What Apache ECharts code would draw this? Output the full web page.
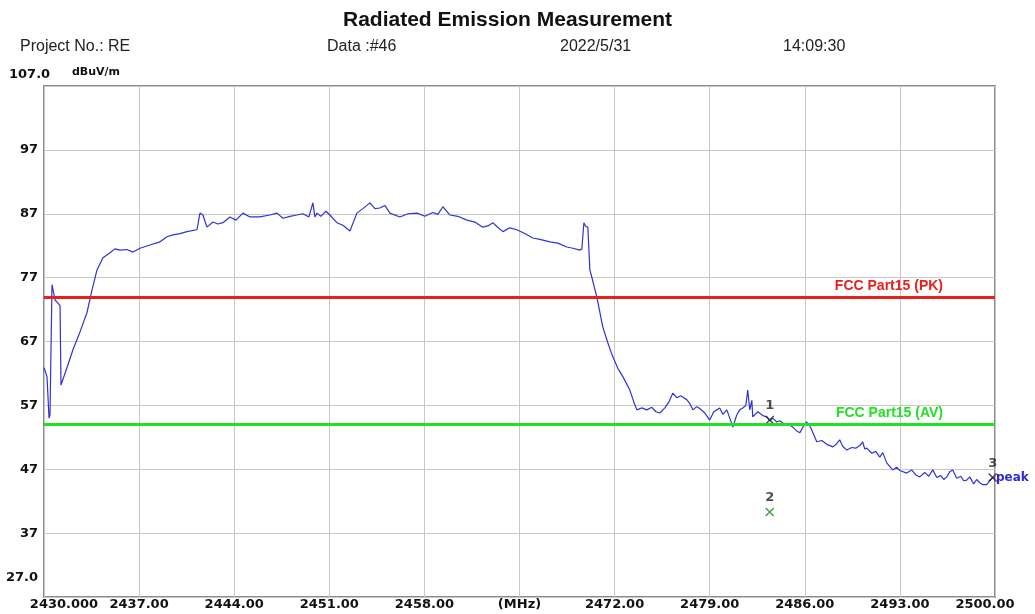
<!DOCTYPE html>
<html>
<head>
<meta charset="utf-8">
<script src="https://cdn.jsdelivr.net/npm/echarts@6/dist/echarts.min.js"></script>
<style>
  html, body { margin: 0; padding: 0; background: #fff; }
  #chart { width: 1035px; height: 614px; }
</style>
</head>
<body>
<div id="chart"></div>
<script>
// 扫描数据 (MHz / dBuV/m)
var freqs = [
  2430.00, 2430.07, 2430.22, 2430.37, 2430.44, 2430.59, 2430.66, 2430.81, 2431.03, 2431.18,
  2431.25, 2431.32, 2431.69, 2432.13, 2432.65, 2433.16, 2433.53, 2433.90, 2434.34, 2434.86,
  2435.22, 2435.59, 2436.11, 2436.55, 2437.06, 2437.80, 2438.54, 2439.05, 2439.49, 2440.01,
  2440.52, 2441.26, 2441.48, 2441.70, 2441.99, 2442.44, 2442.80, 2443.17, 2443.69, 2444.13,
  2444.64, 2445.16, 2445.89, 2446.63, 2447.15, 2447.59, 2448.10, 2448.62, 2449.06, 2449.50,
  2449.79, 2449.94, 2450.09, 2450.38, 2450.75, 2451.04, 2451.56, 2452.00, 2452.52, 2453.03,
  2453.47, 2453.99, 2454.36, 2454.72, 2455.09, 2455.46, 2456.20, 2456.79, 2457.45, 2458.04,
  2458.62, 2458.99, 2459.36, 2459.88, 2460.46, 2461.13, 2461.71, 2462.30, 2462.67, 2463.04,
  2463.33, 2463.78, 2464.29, 2464.80, 2465.39, 2465.98, 2466.50, 2467.23, 2467.82, 2468.48,
  2468.93, 2469.44, 2469.59, 2469.74, 2469.88, 2470.03, 2470.18, 2470.32, 2470.69, 2471.13,
  2471.50, 2471.87, 2472.24, 2472.61, 2473.12, 2473.42, 2473.64, 2474.01, 2474.37, 2474.74,
  2475.04, 2475.33, 2475.70, 2475.99, 2476.28, 2476.58, 2476.87, 2477.31, 2477.53, 2477.76,
  2478.05, 2478.27, 2478.64, 2479.00, 2479.30, 2479.74, 2479.96, 2480.26, 2480.48, 2480.70,
  2480.99, 2481.21, 2481.44, 2481.66, 2481.80, 2481.95, 2482.10, 2482.17, 2482.54, 2482.91,
  2483.20, 2483.42, 2483.64, 2483.94, 2484.16, 2484.53, 2484.89, 2485.11, 2485.41, 2485.63,
  2485.92, 2486.14, 2486.44, 2486.88, 2487.25, 2487.62, 2488.06, 2488.35, 2488.57, 2488.79,
  2489.09, 2489.46, 2489.75, 2490.05, 2490.26, 2490.41, 2490.56, 2490.93, 2491.22, 2491.52,
  2491.74, 2492.03, 2492.47, 2492.77, 2492.99, 2493.50, 2493.87, 2494.17, 2494.46, 2494.83,
  2495.12, 2495.42, 2495.71, 2496.00, 2496.23, 2496.45, 2496.67, 2496.89, 2497.18, 2497.48,
  2497.70, 2497.92, 2498.14, 2498.43, 2498.65, 2498.87, 2499.09, 2499.39, 2499.61, 2499.83,
  2500.00
]
var levels = [
  62.9, 62.5, 61.5, 55.0, 55.5, 75.9, 76.0, 73.5, 73.0, 72.6,
  60.2, 60.3, 62.9, 65.7, 68.5, 71.5, 75.0, 78.2, 80.1, 80.9,
  81.5, 81.3, 81.4, 81.0, 81.6, 82.1, 82.6, 83.4, 83.7, 83.9,
  84.2, 84.5, 87.1, 86.8, 84.9, 85.7, 85.4, 85.6, 86.5, 86.0,
  87.1, 86.5, 86.5, 86.8, 87.1, 86.3, 86.6, 86.8, 87.0, 86.5,
  88.7, 86.5, 87.1, 86.6, 87.4, 86.8, 85.6, 85.2, 84.3, 87.1,
  87.8, 88.7, 87.8, 87.9, 88.3, 87.1, 86.5, 87.0, 87.1, 86.6,
  87.2, 86.9, 88.1, 86.8, 86.6, 86.0, 85.7, 84.9, 85.1, 85.6,
  85.0, 84.2, 84.8, 84.5, 83.9, 83.2, 83.0, 82.6, 82.4, 81.8,
  81.6, 81.3, 81.5, 85.6, 85.0, 84.9, 78.2, 77.1, 74.0, 69.3,
  66.8, 64.6, 62.8, 61.5, 59.4, 57.5, 56.3, 56.6, 56.3, 56.7,
  56.0, 55.8, 56.6, 57.5, 58.9, 58.2, 58.5, 57.9, 57.3, 56.3,
  56.8, 56.5, 55.8, 54.7, 56.0, 56.6, 55.6, 56.3, 55.0, 53.6,
  55.5, 56.3, 56.6, 57.0, 59.4, 56.3, 57.8, 55.2, 56.0, 55.4,
  55.2, 54.6, 55.0, 54.4, 54.6, 54.0, 53.9, 53.6, 53.0, 52.7,
  53.8, 54.4, 53.5, 51.3, 51.5, 50.9, 50.5, 51.0, 51.6, 50.6,
  50.0, 50.4, 50.3, 50.7, 51.3, 50.2, 50.3, 49.5, 49.8, 48.9,
  49.6, 48.0, 46.9, 47.3, 46.8, 46.4, 46.9, 46.1, 45.8, 46.5,
  45.9, 46.9, 45.7, 46.0, 45.4, 45.8, 46.6, 46.9, 45.6, 45.9,
  45.2, 45.3, 45.8, 44.7, 45.4, 44.9, 44.6, 44.6, 45.2, 45.7,
  45.6
]

// 限值线
var limitNames = ['FCC Part15 (PK)', 'FCC Part15 (AV)']
var limitValues = [74, 54]
var limitColors = ['#e8201c', '#22e022']

// 标记点
var markerNames = ['1', '2', '3']
var markerFreqs = [2483.42, 2483.42, 2499.83]
var markerLevels = [54.7, 40.3, 45.7]
var markerColors = ['#222222', '#1e8a1e', '#222222']

// 坐标轴
var xTicks = [2430, 2437, 2444, 2451, 2458, 2465, 2472, 2479, 2486, 2493, 2500]
var yTicks = [27, 37, 47, 57, 67, 77, 87, 97, 107]

var chart = echarts.init(document.getElementById('chart'))

var traceData = freqs.map(function (f, i) { return [f, levels[i]] })
var markerData = markerNames.map(function (n, i) {
  return {
    name: n,
    value: [markerFreqs[i], markerLevels[i]],
    itemStyle: { borderColor: markerColors[i] }
  }
})

var sansFont = 'Liberation Sans, Arial, sans-serif'
var tickFont = 'DejaVu Sans, sans-serif'

chart.setOption({
  animation: false,
  title: {
    text: 'Radiated Emission Measurement',
    left: 338,
    top: 5,
    textStyle: { fontFamily: sansFont, fontSize: 21, fontWeight: 'bold', color: '#111' }
  },
  graphic: [
    { type: 'text', left: 20, top: 39, style: { text: 'Project No.: RE', font: '16px ' + sansFont, fill: '#222' } },
    { type: 'text', left: 327, top: 39, style: { text: 'Data :#46', font: '16px ' + sansFont, fill: '#222' } },
    { type: 'text', left: 560, top: 39, style: { text: '2022/5/31', font: '16px ' + sansFont, fill: '#222' } },
    { type: 'text', left: 783, top: 39, style: { text: '14:09:30', font: '16px ' + sansFont, fill: '#222' } },
    { type: 'text', left: 9, top: 68, style: { text: yTicks[yTicks.length - 1].toFixed(1), font: 'bold 13px ' + tickFont, fill: '#111' } },
    { type: 'text', left: 72, top: 67, style: { text: 'dBuV/m', font: 'bold 11px ' + tickFont, fill: '#111' } },
    { type: 'text', left: 6, top: 571, style: { text: yTicks[0].toFixed(1), font: 'bold 13px ' + tickFont, fill: '#111' } }
  ],
  grid: {
    left: 44,
    right: 40,
    top: 86,
    bottom: 17,
    show: true,
    borderColor: '#8a8a8a',
    borderWidth: 2
  },
  xAxis: {
    type: 'value',
    min: xTicks[0],
    max: xTicks[xTicks.length - 1],
    interval: 7,
    axisLine: { show: false },
    axisTick: { show: false },
    splitLine: { show: true, lineStyle: { color: '#c8c8c8', width: 1 } },
    axisLabel: {
      margin: 1,
      fontFamily: tickFont,
      fontSize: 13,
      fontWeight: 'bold',
      color: '#111',
      showMinLabel: true,
      showMaxLabel: true,
      formatter: function (v) {
        if (v === xTicks[0]) return '{first|' + v.toFixed(3) + '}'
        if (v === xTicks[xTicks.length - 1]) return '{last|' + v.toFixed(2) + '}'
        if (v === 2465) return '(MHz)'
        return v.toFixed(2)
      },
      rich: {
        first: { fontFamily: tickFont, fontSize: 13, fontWeight: 'bold', color: '#111', padding: [0, 0, 0, 40] },
        last: { fontFamily: tickFont, fontSize: 13, fontWeight: 'bold', color: '#111', padding: [0, 20, 0, 0] }
      }
    }
  },
  yAxis: {
    type: 'value',
    min: yTicks[0],
    max: yTicks[yTicks.length - 1],
    interval: 10,
    axisLine: { show: false },
    axisTick: { show: false },
    splitLine: { show: true, lineStyle: { color: '#c8c8c8', width: 1 } },
    axisLabel: {
      margin: 6,
      fontFamily: tickFont,
      fontSize: 13,
      fontWeight: 'bold',
      color: '#111',
      formatter: function (v) {
        if (v === yTicks[0] || v === yTicks[yTicks.length - 1]) return ''
        return String(v)
      }
    }
  },
  series: [
    {
      name: 'peak',
      type: 'line',
      data: traceData,
      symbol: 'none',
      lineStyle: { color: '#3232d4', width: 1.2 },
      endLabel: {
        show: true,
        formatter: 'peak',
        distance: 1,
        color: '#2b2bd0',
        fontFamily: tickFont,
        fontSize: 12,
        fontWeight: 'bold'
      },
      markLine: {
        silent: true,
        symbol: 'none',
        data: limitValues.map(function (v, i) {
          return {
            yAxis: v,
            lineStyle: { color: limitColors[i], width: 3, type: 'solid' },
            label: {
              show: true,
              formatter: limitNames[i],
              position: 'insideEndTop',
              distance: 4,
              padding: [0, 48, 0, 0],
              color: limitColors[i],
              fontFamily: sansFont,
              fontSize: 14,
              fontWeight: 'bold'
            }
          }
        })
      },
      z: 3
    },
    {
      name: 'markers',
      type: 'scatter',
      data: markerData,
      symbol: 'path://M0,0L10,10M10,0L0,10',
      symbolSize: 8,
      itemStyle: { color: 'none', borderWidth: 1.5 },
      label: {
        show: true,
        position: 'top',
        distance: 1,
        formatter: '{b}',
        color: '#222',
        fontFamily: tickFont,
        fontSize: 13,
        fontWeight: 'bold'
      },
      z: 4
    }
  ]
})
</script>
</body>
</html>
